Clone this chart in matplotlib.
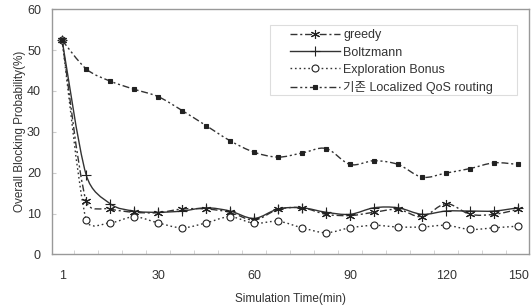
import numpy as np
import matplotlib
matplotlib.use("Agg")
import matplotlib.pyplot as plt
from matplotlib.path import Path
from matplotlib.patches import PathPatch, Rectangle
from matplotlib.lines import Line2D

plt.rcParams["font.family"] = ["Liberation Sans", "Noto Sans CJK KR", "DejaVu Sans"]

# 20 sample points, shown on a category axis
tick_labels = ["1", "30", "60", "90", "120", "150"]
tick_idx    = [0, 4, 8, 12, 16, 19]

greedy      = [52.4, 13.0, 11.1, 10.3, 10.2, 11.1, 11.1, 10.3, 8.4, 11.0,
               11.4, 9.8, 9.5, 10.3, 11.0, 9.2, 12.4, 9.8, 9.8, 11.0]
boltzmann   = [52.4, 19.5, 12.4, 10.6, 10.3, 10.6, 11.4, 10.6, 8.8, 11.1,
               11.4, 10.3, 9.8, 11.4, 11.4, 9.8, 10.6, 10.6, 10.6, 11.4]
exploration = [52.4, 8.5, 7.7, 9.2, 7.7, 6.5, 7.7, 9.2, 7.6, 8.1,
               6.5, 5.3, 6.5, 7.1, 6.7, 6.7, 7.1, 6.1, 6.5, 6.9]
localized   = [52.4, 45.4, 42.4, 40.4, 38.6, 35.2, 31.5, 27.8, 25.0, 23.8,
               24.8, 25.9, 22.0, 22.9, 22.0, 18.9, 19.9, 21.0, 22.4, 22.0]

labels = ["greedy", "Boltzmann", "Exploration Bonus", "기존 Localized QoS routing"]


def smooth_path(ax, xs, ys):
    # spreadsheet-like smoothed line: catmull-rom bezier worked out in pixel
    # space, with handles capped at half of the segment length
    p = ax.transData.transform(np.column_stack([xs, ys]).astype(float))
    n = len(p)

    def handle(j, k, seg):
        t = (p[k] - p[j]) / 6.0
        L = np.hypot(*t)
        cap = 0.5 * np.hypot(*seg)
        return t * (cap / L) if L > cap else t

    verts = [p[0]]
    codes = [Path.MOVETO]
    for i in range(n - 1):
        seg = p[i + 1] - p[i]
        c1 = p[i] + handle(i - 1 if i > 0 else i, i + 1, seg)
        c2 = p[i + 1] - handle(i, i + 2 if i + 2 < n else i + 1, seg)
        verts += [c1, c2, p[i + 1]]
        codes += [Path.CURVE4] * 3
    verts = ax.transData.inverted().transform(np.array(verts))
    return Path(verts, codes)


fig = plt.figure(figsize=(5.31, 3.05), dpi=100)
ax = fig.add_axes([0.098, 0.166, 0.898, 0.804])
ax.set_xlim(-0.42, 19.45)
ax.set_ylim(0, 60)

x = np.arange(len(greedy))
styles = [
    (greedy,      (0, (5, 2, 1.5, 2)),              (6, 2, 0), 6.5, "none"),
    (boltzmann,   "-",                               "+",       7,   "none"),
    (exploration, (0, (1.2, 2)),                     "o",       5,   "white"),
    (localized,   (0, (5, 2, 1.5, 2, 1.5, 2)),       "s",       2.3, "#222222"),
]
line_col = "#333333"

handles = []
for (ys, ls, mk, ms, mfc), lab in zip(styles, labels):
    patch = PathPatch(smooth_path(ax, x, ys), fill=False, edgecolor=line_col,
                      linewidth=1.0, linestyle=ls, transform=ax.transData)
    ax.add_patch(patch)
    ax.plot(x, ys, linestyle="none", marker=mk, markersize=ms,
            markerfacecolor=mfc, markeredgecolor="#222222", markeredgewidth=0.8)
    handles.append(Line2D([], [], color=line_col, linewidth=1.0, linestyle=ls,
                          marker=mk, markersize=ms, markerfacecolor=mfc,
                          markeredgecolor="#222222", markeredgewidth=0.8))

ax.set_xticks(tick_idx)
ax.set_xticklabels(tick_labels)
ax.set_xticks(np.arange(len(greedy) - 1) + 0.5, minor=True)
ax.set_yticks([0, 10, 20, 30, 40, 50, 60])
ax.tick_params(axis="x", which="major", length=0, pad=11, labelsize=9, colors="#333333")
ax.tick_params(axis="x", which="minor", length=3, direction="in", color="#cccccc")
ax.tick_params(axis="y", length=3, direction="in", color="#cccccc", pad=8,
               labelsize=9, labelcolor="#333333")
for s in ax.spines.values():
    s.set_color("#999999")
    s.set_linewidth(1.0)

ax.set_xlabel("Simulation Time(min)", fontsize=8.5, color="#333333", labelpad=8)
ax.set_ylabel("Overall Blocking Probability(%)", fontsize=8.5, color="#333333", labelpad=1)

# legend box, drawn separately so the padding can be wide
ax.add_patch(Rectangle((0.457, 0.650), 0.518, 0.285, transform=ax.transAxes,
                       facecolor="white", edgecolor="#dddddd", linewidth=0.8, zorder=4))
leg = ax.legend(handles, labels, loc="upper left", bbox_to_anchor=(0.499, 0.918),
                fontsize=9, frameon=False, handlelength=4.0, handletextpad=0.25,
                labelspacing=0.42, borderpad=0, borderaxespad=0)
leg.set_zorder(5)
for t in leg.get_texts():
    t.set_color("#333333")

fig.savefig("out.png", dpi=100)
